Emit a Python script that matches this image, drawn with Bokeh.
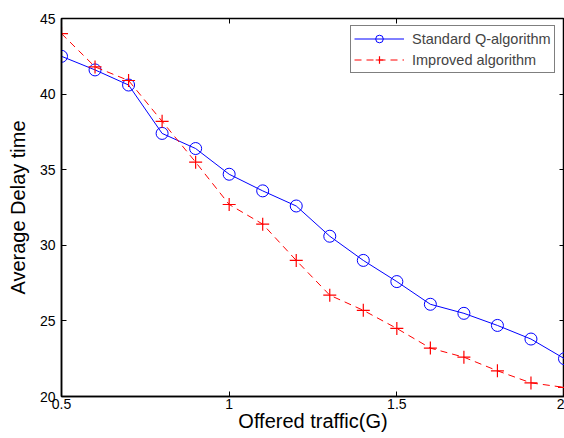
from bokeh.plotting import figure
from bokeh.models import LinearAxis, Range1d, FixedTicker, Legend, LegendItem
from bokeh.embed import file_html
from bokeh.resources import INLINE

x_vals = [0.5, 0.6, 0.7, 0.8, 0.9, 1.0, 1.1, 1.2, 1.3, 1.4, 1.5, 1.6, 1.7, 1.8, 1.9, 2.0]
standard_q = [42.5, 41.6, 40.6, 37.4, 36.4, 34.7, 33.6, 32.6, 30.6, 29.0, 27.6, 26.1, 25.5, 24.7, 23.8, 22.5]
improved = [44.0, 41.8, 40.9, 38.2, 35.5, 32.7, 31.4, 29.0, 26.7, 25.7, 24.5, 23.2, 22.6, 21.7, 20.9, 20.6]
x_ticks = [0.5, 1, 1.5, 2]
y_ticks = [20, 25, 30, 35, 40, 45]

FONT = "Liberation Sans"

p = figure(width=564, height=438, output_backend="svg", toolbar_location=None,
           x_range=Range1d(0.5, 2.0), y_range=Range1d(20, 45),
           min_border_left=61, min_border_top=18, min_border_right=0, min_border_bottom=42)
p.grid.visible = False
p.outline_line_color = "black"
p.outline_line_width = 1.5

for ax in [p.xaxis[0], p.yaxis[0]]:
    ax.major_tick_in = 5
    ax.major_tick_out = 0
    ax.minor_tick_line_color = None
    ax.axis_line_width = 1.5
    ax.major_tick_line_width = 1
    ax.major_label_text_font = FONT
    ax.major_label_text_font_size = "14px"
    ax.major_label_text_color = "black"
    ax.axis_label_text_font = FONT
    ax.axis_label_text_font_size = "20px"
    ax.axis_label_text_font_style = "normal"
    ax.axis_label_text_color = "black"

p.xaxis.ticker = FixedTicker(ticks=x_ticks)
p.yaxis.ticker = FixedTicker(ticks=y_ticks)
p.xaxis.major_label_overrides = {0.5: "0.5", 1: "1", 1.5: "1.5", 2: "2"}
p.xaxis.axis_label = "Offered traffic(G)"
p.yaxis.axis_label = "Average Delay time"
p.xaxis.major_label_standoff = 2
p.xaxis.axis_label_standoff = -2
p.yaxis.major_label_standoff = 6
p.yaxis.axis_label_standoff = 8

empty = {t: "" for t in x_ticks}
top_ax = LinearAxis(ticker=FixedTicker(ticks=x_ticks), major_tick_in=5, major_tick_out=0,
                    minor_tick_line_color=None, major_label_overrides=empty,
                    major_label_standoff=0, axis_line_color=None)
p.add_layout(top_ax, "above")
y_empty = {t: "" for t in y_ticks}
right_ax = LinearAxis(ticker=FixedTicker(ticks=y_ticks), major_tick_in=5, major_tick_out=0,
                      minor_tick_line_color=None, major_label_overrides=y_empty,
                      major_label_standoff=0, axis_line_color=None)
p.add_layout(right_ax, "right")

bl = p.line(x_vals, standard_q, line_color="blue", line_width=1)
bs = p.scatter(x_vals, standard_q, marker="circle", size=12, fill_color=None,
               line_color="blue", line_width=1)
rl = p.line(x_vals, improved, line_color="red", line_width=1, line_dash="7 5")
rs = p.scatter(x_vals, improved, marker="cross", size=13, line_color="red", line_width=1.2)

legend = Legend(items=[LegendItem(label="Standard Q-algorithm", renderers=[bl, bs]),
                       LegendItem(label="Improved algorithm", renderers=[rl, rs])],
                location=(289, 323))
legend.label_text_font = FONT
legend.label_text_font_size = "14.5px"
legend.border_line_color = "black"
legend.border_line_width = 1
legend.glyph_width = 50
legend.spacing = 2
legend.padding = 3
legend.margin = 0
legend.label_standoff = 8
legend.label_height = 19
legend.glyph_height = 19
p.add_layout(legend)

open("out.html", "w").write(file_html(p, INLINE))
